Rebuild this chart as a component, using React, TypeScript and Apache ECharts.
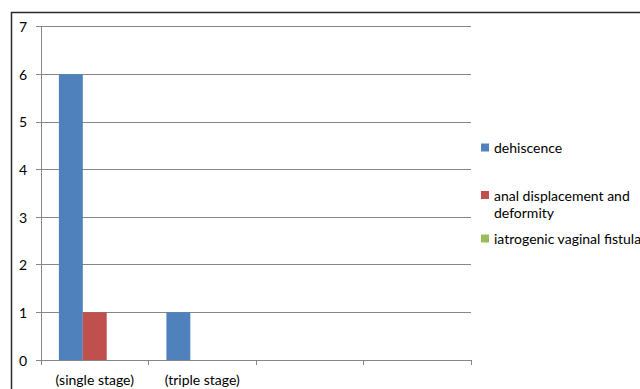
import React, { useEffect, useRef } from "react";
import * as echarts from "echarts";

// Chart data
const categories = ["(single stage)", "(triple stage)", "", ""];
const dehiscence = [6, 1, 0, 0];
const analDisplacement = [1, 0, 0, 0];
const iatrogenicFistula = [0, 0, 0, 0];
const seriesNames = [
  "dehiscence",
  "anal displacement and deformity",
  "iatrogenic vaginal fistula",
];
const yTicks = { min: 0, max: 7, interval: 1 };

const FONT = "Lato, 'Noto Sans', sans-serif";
const AXIS_GRAY = "#868686";
const TEXT = "#000000";

export default function App() {
  const ref = useRef<HTMLDivElement>(null);

  useEffect(() => {
    document.body.style.margin = "0";
    if (!ref.current) return;
    const chart = echarts.init(ref.current, undefined, { renderer: "svg" });

    const legendText = {
      fontFamily: FONT,
      fontSize: 14,
      lineHeight: 17,
      color: TEXT,
    };
    const legendBase = {
      orient: "vertical" as const,
      left: 481,
      padding: 0,
      itemWidth: 8,
      itemHeight: 8,
      itemGap: 0,
      icon: "rect",
      selectedMode: false,
      textStyle: legendText,
    };

    chart.setOption({
      animation: false,
      backgroundColor: "#ffffff",
      color: ["#4F81BD", "#C0504D", "#9BBB59"],
      grid: { left: 41, top: 26.5, right: 169, bottom: 29, containLabel: false },
      legend: [
        { ...legendBase, top: 139, data: [seriesNames[0]] },
        {
          ...legendBase,
          top: 169.5,
          data: [seriesNames[1]],
          // leading blank line keeps the swatch level with the first text line
          formatter: () => " \nanal displacement and\ndeformity",
        },
        { ...legendBase, top: 230, data: [seriesNames[2]] },
      ],
      xAxis: {
        type: "category",
        data: categories,
        axisLine: { show: true, lineStyle: { color: AXIS_GRAY, width: 1 } },
        axisTick: { show: true, length: 5, lineStyle: { color: AXIS_GRAY } },
        axisLabel: {
          fontFamily: FONT,
          fontSize: 14,
          color: TEXT,
          margin: 12,
          interval: 0,
        },
        splitLine: { show: false },
      },
      yAxis: {
        type: "value",
        min: yTicks.min,
        max: yTicks.max,
        interval: yTicks.interval,
        axisLine: { show: true, lineStyle: { color: AXIS_GRAY, width: 1 } },
        axisTick: { show: true, length: 5, lineStyle: { color: AXIS_GRAY } },
        axisLabel: {
          fontFamily: FONT,
          fontSize: 14,
          color: TEXT,
          margin: 14,
        },
        splitLine: { show: true, lineStyle: { color: AXIS_GRAY, width: 1 } },
      },
      series: [
        {
          name: seriesNames[0],
          type: "bar",
          data: dehiscence,
          barGap: "0%",
          barCategoryGap: "33.3%",
        },
        {
          name: seriesNames[1],
          type: "bar",
          data: analDisplacement,
          barGap: "0%",
          barCategoryGap: "33.3%",
        },
        {
          name: seriesNames[2],
          type: "bar",
          data: iatrogenicFistula,
          barGap: "0%",
          barCategoryGap: "33.3%",
        },
      ],
      graphic: [
        // chart-area frame: top and left edges
        {
          type: "polyline",
          shape: { points: [[11.5, 389], [11.5, 12.5], [640, 12.5]] },
          style: { fill: "none", stroke: "#2b2b2b", lineWidth: 1.5 },
          silent: true,
        },
      ],
    });

    return () => chart.dispose();
  }, []);

  return <div ref={ref} style={{ width: 640, height: 389, overflow: "hidden" }} />;
}
